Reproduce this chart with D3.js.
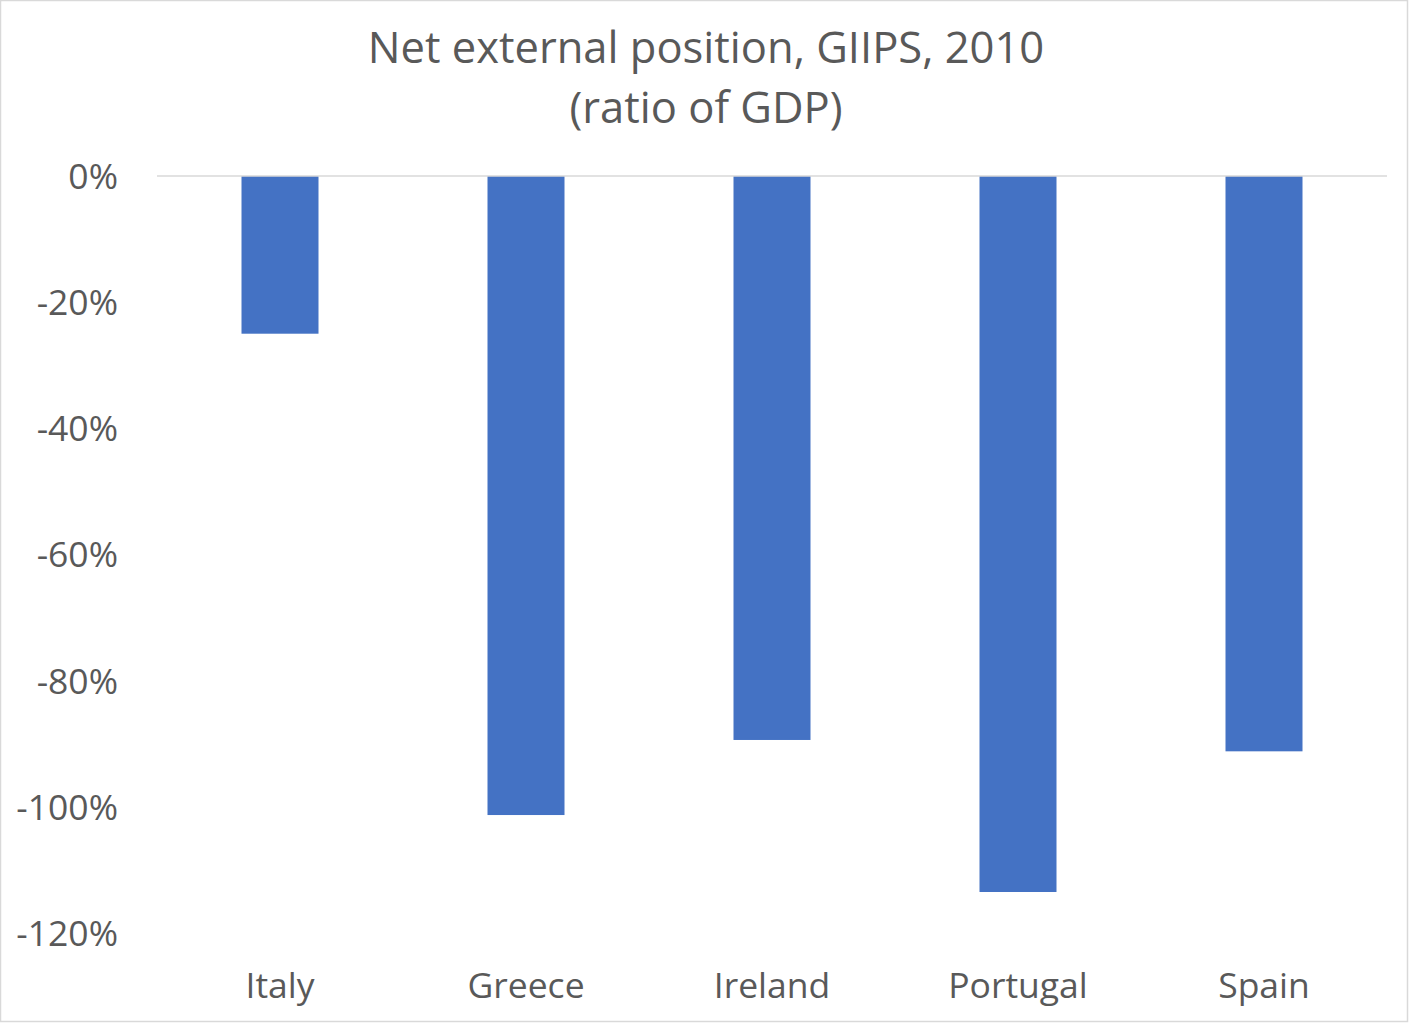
<!DOCTYPE html>
<html>
<head>
<meta charset="utf-8">
<script src="https://cdn.jsdelivr.net/npm/d3@7"></script>
<style>
  html, body { margin: 0; padding: 0; background: #fff; }
  svg { display: block; }
  text { font-family: "Open Sans", "Noto Sans", sans-serif; fill: #595959; }
</style>
</head>
<body>
<script>
// Net international investment position, 2010, as a share of GDP
const countries = ["Italy", "Greece", "Ireland", "Portugal", "Spain"];
const netPosition = [-0.25, -1.013, -0.894, -1.135, -0.912];
const tickValues = [0, -0.2, -0.4, -0.6, -0.8, -1.0, -1.2];
const titleLines = ["Net external position, GIIPS, 2010", "(ratio of GDP)"];

const W = 1410, H = 1024;
const margin = { top: 176, right: 23, bottom: 91, left: 157 };

const svg = d3.select("body").append("svg")
  .attr("width", W).attr("height", H);

// chart frame
svg.append("rect")
  .attr("x", 0.5).attr("y", 0.5)
  .attr("width", W - 3).attr("height", H - 3)
  .attr("fill", "#fff").attr("stroke", "#d9d9d9").attr("stroke-width", 1.5);

const x = d3.scaleBand()
  .domain(countries)
  .range([margin.left, W - margin.right])
  .paddingInner(0.687)
  .paddingOuter(0.3435);

const y = d3.scaleLinear()
  .domain([0, -1.2])
  .range([margin.top, H - margin.bottom]);

// title
svg.append("g").selectAll("text")
  .data(titleLines)
  .join("text")
  .attr("x", 706)
  .attr("y", (d, i) => 63 + i * 60)
  .attr("text-anchor", "middle")
  .attr("font-size", 43.5)
  .text(d => d);

// y axis labels (no axis line)
const yAxis = d3.axisLeft(y)
  .tickValues(tickValues)
  .tickFormat(d3.format(".0%"))
  .tickSize(0)
  .tickPadding(0);

const gy = svg.append("g")
  .attr("transform", `translate(118,0)`)
  .call(yAxis);
gy.select(".domain").remove();
gy.selectAll("text")
  .attr("font-size", 35.5)
  .attr("font-family", "'Open Sans', sans-serif")
  .attr("fill", "#595959")
  .attr("dy", "0.35em")
  .text(d => d3.format(".0%")(d).replace("−", "-"));

// bars
svg.append("g").selectAll("rect")
  .data(countries.map((c, i) => ({ c, v: netPosition[i] })))
  .join("rect")
  .attr("x", d => x(d.c))
  .attr("width", x.bandwidth())
  .attr("y", d => y(0))
  .attr("height", d => y(d.v) - y(0))
  .attr("fill", "#4472c4");

// zero line
svg.append("line")
  .attr("x1", margin.left).attr("x2", W - margin.right)
  .attr("y1", y(0)).attr("y2", y(0))
  .attr("stroke", "#d9d9d9").attr("stroke-width", 1.5);

// category labels
const xAxis = d3.axisBottom(x).tickSize(0).tickPadding(0);
const gx = svg.append("g")
  .attr("transform", `translate(0,${H - 38})`)
  .call(xAxis);
gx.select(".domain").remove();
gx.selectAll("text")
  .attr("font-size", 35.5)
  .attr("font-family", "'Open Sans', sans-serif")
  .attr("fill", "#595959")
  .attr("dy", "0.35em");
</script>
</body>
</html>
